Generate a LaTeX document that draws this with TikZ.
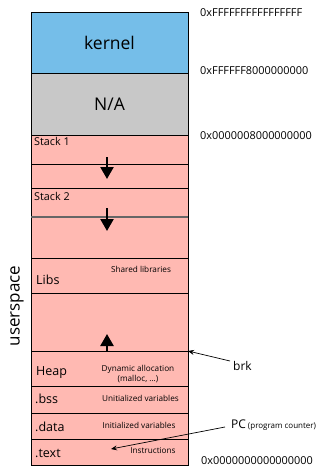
\documentclass[tikz,border=0pt]{standalone}
\usepackage{fontspec}
\setmainfont{Open Sans}
\usetikzlibrary{arrows.meta}
\definecolor{kblue}{RGB}{117,190,233}
\definecolor{nagray}{RGB}{200,200,200}
\definecolor{upink}{RGB}{255,185,178}
\tikzset{
  seg/.style={draw=black, line width=0.8pt, minimum width=157pt, inner sep=0pt, outer sep=0pt},
  useg/.style={seg, fill=upink},
  lbl/.style={font=\fontsize{10.8}{12}\selectfont, inner sep=0pt, anchor=north west},
  big/.style={font=\fontsize{12.5}{14}\selectfont, inner sep=0pt, anchor=west},
  small/.style={font=\fontsize{8.2}{9.5}\selectfont, inner sep=0pt, align=center},
  addr/.style={font=\fontsize{10.9}{12}\selectfont, inner sep=0pt, anchor=west},
  growarrow/.style={line width=2.4pt, -{Triangle[width=13pt,length=12pt]}},
  ptr/.style={line width=0.7pt, -{Stealth[width=5pt,length=6pt]}}
}
\begin{document}
\begin{tikzpicture}[x=1pt,y=-1pt]
\useasboundingbox (0,0) rectangle (331,469);
% segments
\node[seg, fill=kblue, minimum height=61pt] (kernel) at (109.5,42.5) {};
\node[seg, fill=nagray, minimum height=62pt] (na) at (109.5,104) {};
\node[useg, minimum height=29pt] (stack1) at (109.5,149.5) {};
\node[useg, minimum height=24pt] (gap1) at (109.5,176) {};
\node[useg, minimum height=29pt] (stack2) at (109.5,202.5) {};
\node[useg, minimum height=41pt] (gap2) at (109.5,237.5) {};
\node[useg, minimum height=35pt] (libs) at (109.5,275.5) {};
\node[useg, minimum height=58pt] (free) at (109.5,322) {};
\node[useg, minimum height=35pt] (heap) at (109.5,368.5) {};
\node[useg, minimum height=27pt] (bss) at (109.5,399.5) {};
\node[useg, minimum height=26pt] (data) at (109.5,426) {};
\node[useg, minimum height=26pt] (text) at (109.5,452) {};
\draw[line width=1pt] (kernel.north west) rectangle (text.south east);
\draw[line width=1.3pt, draw=black!60] (stack2.south west) -- (stack2.south east);
% texts
\node[font=\fontsize{17.5}{20}\selectfont] (tkernel) at (kernel.center) {kernel};
\node[font=\fontsize{17.5}{20}\selectfont] (tna) at (na.center) {N/A};
\node[lbl] (tstack1) at ([xshift=3pt,yshift=-2pt]stack1.north west) {Stack 1};
\node[lbl] (tstack2) at ([xshift=3pt,yshift=-4pt]stack2.north west) {Stack 2};
\node[big] (tlibs) at (36,280) {Libs};
\node[small] (tshared) at (141,269) {Shared libraries};
\node[big] (theap) at (36,373) {Heap};
\node[small] (tdyn) at (138,374) {Dynamic allocation\\(malloc, ...)};
\node[big] (tbss) at (35,399) {.bss};
\node[small] (tunit) at (140.5,398) {Unitialized variables};
\node[big] (tdata) at (35,427) {.data};
\node[small] (tinit) at (139,425) {Initialized variables};
\node[big] (ttext) at (35,453) {.text};
\node[small] (tinstr) at (153,451) {Instructions};
\node[font=\fontsize{17}{18}\selectfont, rotate=90, inner sep=0pt] (tuser) at (17,306) {userspace};
% addresses
\node[addr] (a1) at (200,13) {0xFFFFFFFFFFFFFFFF};
\node[addr] (a2) at (200,71) {0xFFFFFF8000000000};
\node[addr] (a3) at (200,136) {0x0000008000000000};
\node[addr] (a4) at (201,461) {0x0000000000000000};
% growth arrows
\coordinate (s1a) at (107,157); \coordinate (s1b) at (107,179);
\coordinate (s2a) at (107,208); \coordinate (s2b) at (107,231);
\coordinate (ha) at (107,351); \coordinate (hb) at (107,334);
\draw[growarrow] (s1a) -- (s1b);
\draw[growarrow] (s2a) -- (s2b);
\draw[growarrow] (ha) -- (hb);
% pointers
\node[font=\fontsize{12}{13}\selectfont, inner sep=0pt, anchor=west] (brk) at (233,366) {brk};
\coordinate (brkfrom) at (230,361);
\draw[ptr] (brkfrom) -- (heap.north east);
\node[inner sep=0pt, anchor=west] (pc) at (231,425) {\fontsize{12}{13}\selectfont PC\,{\fontsize{8}{9}\selectfont(program counter)}};
\coordinate (pct) at (111,449);
\coordinate (pcfrom) at (225,427);
\draw[ptr] (pcfrom) -- (pct);
\end{tikzpicture}
\end{document}
